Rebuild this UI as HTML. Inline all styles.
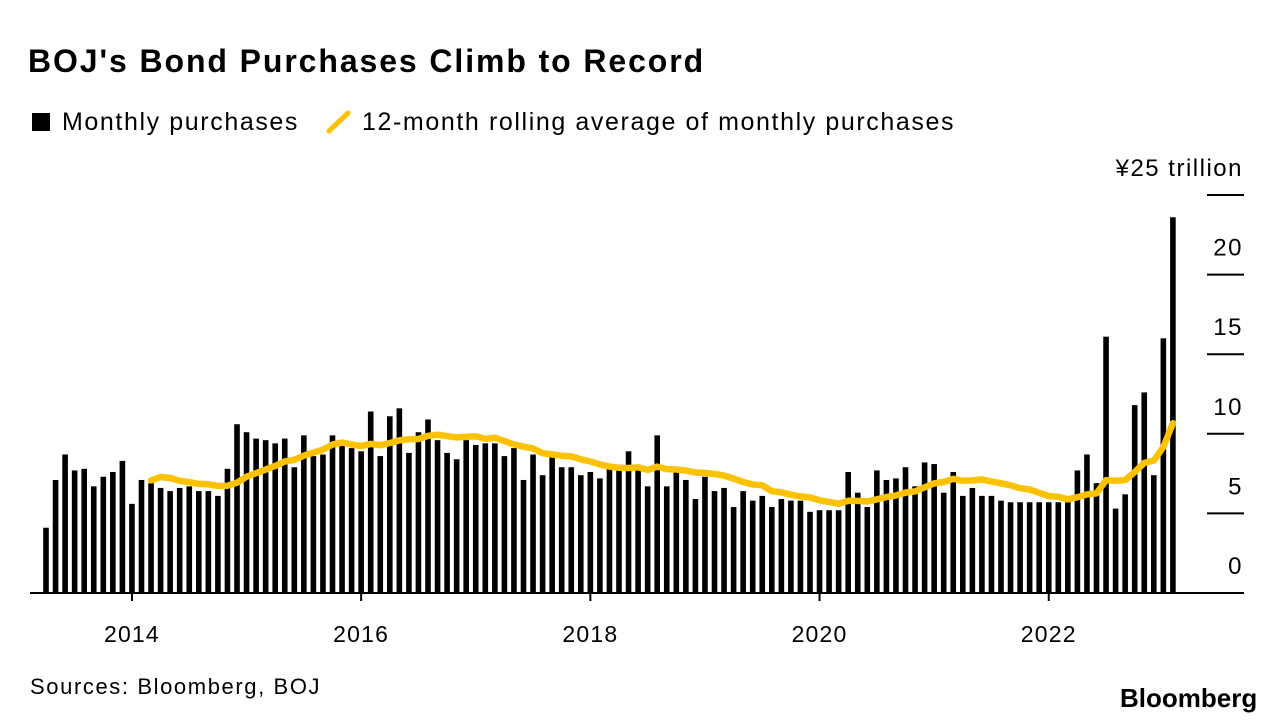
<!DOCTYPE html>
<html><head><meta charset="utf-8"><style>
html,body{margin:0;padding:0;background:#fff;}
body{width:1288px;height:726px;overflow:hidden;font-family:"Liberation Sans",sans-serif;position:relative;}
.t{position:absolute;white-space:nowrap;color:#000;}
</style></head><body>
<div class="t" style="left:28px;top:43px;font-size:32px;font-weight:bold;letter-spacing:1.9px;">BOJ's Bond Purchases Climb to Record</div>
<div style="position:absolute;left:32px;top:108px;height:30px;">
  <span style="position:absolute;left:0;top:5px;width:18px;height:18px;background:#000;"></span>
  <span class="t" style="left:30px;top:0;font-size:25px;letter-spacing:1.6px;">Monthly purchases</span>
  <svg style="position:absolute;left:294px;top:2px;" width="26" height="24"><line x1="3" y1="21" x2="22" y2="3" stroke="#fcc200" stroke-width="5" stroke-linecap="round"/></svg>
  <span class="t" style="left:330px;top:0;font-size:25px;letter-spacing:1.6px;">12-month rolling average of monthly purchases</span>
</div>
<svg id="chart" width="1288" height="726" style="position:absolute;left:0;top:0;"></svg>
<div class="t" style="left:30px;top:674px;font-size:22px;letter-spacing:1.6px;">Sources: Bloomberg, BOJ</div>
<div class="t" style="left:1120px;top:683px;font-size:26px;font-weight:bold;letter-spacing:0px;">Bloomberg</div>
<script>
const monthly = [4.1,7.1,8.7,7.7,7.8,6.7,7.3,7.6,8.3,5.6,7.1,6.9,6.6,6.4,6.6,6.7,6.4,6.4,6.1,7.8,
10.6,10.1,9.7,9.6,9.4,9.7,7.9,9.9,8.6,8.7,9.9,9.3,9.1,8.9,11.4,8.6,11.1,11.6,8.8,10.1,
10.9,9.6,8.8,8.4,9.6,9.3,9.4,9.4,8.6,9.1,7.1,8.7,7.4,8.6,7.9,7.9,7.4,7.6,7.2,7.8,
7.7,8.9,7.7,6.7,9.9,6.7,7.6,7.1,5.9,7.3,6.4,6.6,5.4,6.4,5.8,6.1,5.4,5.9,5.8,5.8,
5.1,5.2,5.2,5.2,7.6,6.3,5.4,7.7,7.1,7.2,7.9,6.7,8.2,8.1,6.3,7.6,6.1,6.6,6.1,6.1,
5.8,5.7,5.7,5.7,5.7,5.7,5.7,5.7,7.7,8.7,6.9,16.1,5.3,6.2,11.8,12.6,7.4,16.0,23.6];
const startYear = 2013, startMonth = 3; // April 2013 (0-based month)
const yTicks = [0,5,10,15,20,25];
const xYears = [2014,2016,2018,2020,2022];
const rolling = monthly.map((v,i)=> i<11 ? null : monthly.slice(i-11,i+1).reduce((a,b)=>a+b,0)/12);

const svg = document.getElementById('chart');
const NS='http://www.w3.org/2000/svg';
const x0=46, dx=9.55, y0=593, ky=(593-195)/25;
const xIdx = i => x0 + i*dx;
const xDate = (y,m) => xIdx((y-startYear)*12 + m - startMonth);
const yV = v => y0 - v*ky;
function mk(t,a){const e=document.createElementNS(NS,t);for(const k in a)e.setAttribute(k,a[k]);svg.appendChild(e);return e;}

yTicks.forEach(v=>{
  if(v>0){
    const l=mk('line',{x1:1207,x2:1244,y1:yV(v),y2:yV(v),stroke:'#000','stroke-width':2});
    
    
  }
  const t=mk('text',{x:1243,y:yV(v)-19,'text-anchor':'end','font-size':24,'letter-spacing':1.5,'font-family':'Liberation Sans, sans-serif'});
  t.textContent = v===25 ? '¥25 trillion' : String(v);
  if(v===25) t.setAttribute('y', 176);
  
  
});

monthly.forEach((v,i)=>{
  const r=mk('rect',{x:xIdx(i)-2.8,y:yV(v),width:5.6,height:v*ky,fill:'#000'});
  
  
});

let d='';
rolling.forEach((v,i)=>{ if(v===null) return; d += (d?'L':'M') + xIdx(i).toFixed(1)+','+yV(v).toFixed(1); });
const p=mk('path',{d:d,fill:'none',stroke:'#fcc200','stroke-width':6.5,'stroke-linejoin':'round','stroke-linecap':'round'});



const base=mk('line',{x1:30,x2:1244,y1:y0,y2:y0,stroke:'#000','stroke-width':2});



xYears.forEach(yr=>{
  const x=xDate(yr,0);
  const tk=mk('line',{x1:x,x2:x,y1:y0,y2:y0+8,stroke:'#000','stroke-width':2});
  
  
  const t=mk('text',{x:x,y:642,'text-anchor':'middle','font-size':23,'letter-spacing':1.2,'font-family':'Liberation Sans, sans-serif'});
  t.textContent=String(yr);
  
  
});
</script>
</body></html>
